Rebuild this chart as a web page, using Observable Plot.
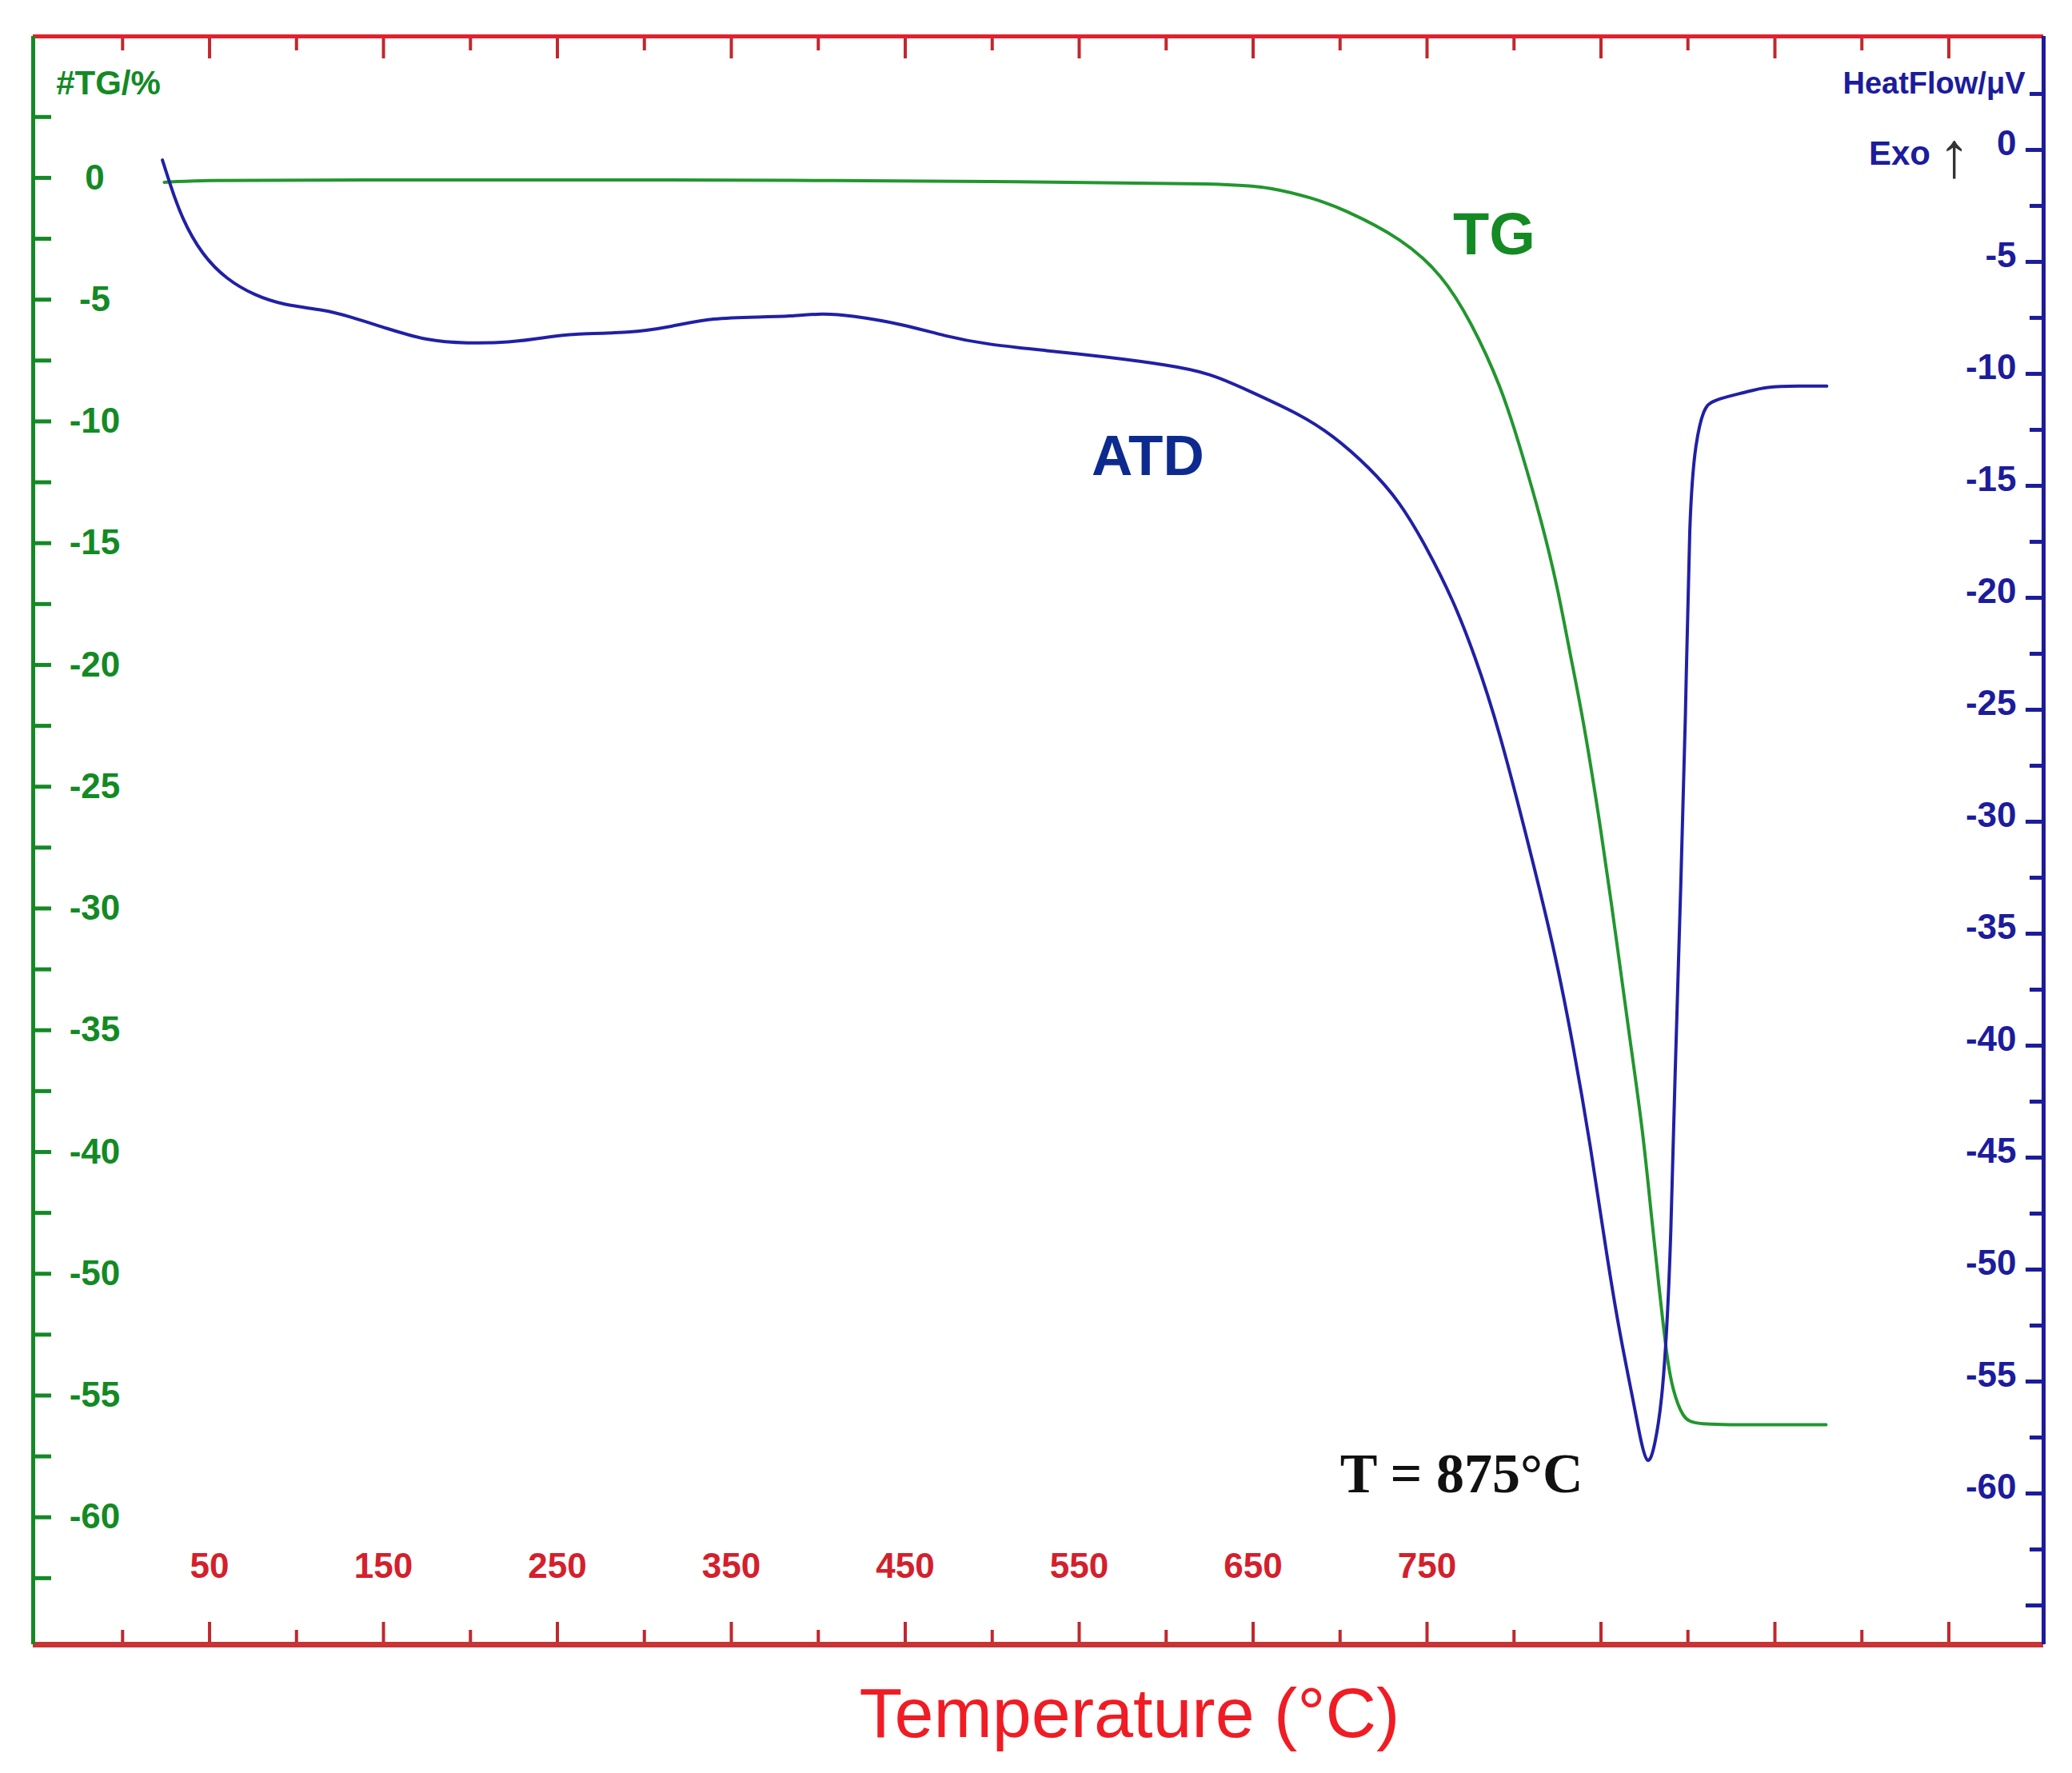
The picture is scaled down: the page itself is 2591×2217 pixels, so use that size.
<!DOCTYPE html>
<html><head><meta charset="utf-8">
<script src="https://cdn.jsdelivr.net/npm/d3@7"></script>
<script src="https://cdn.jsdelivr.net/npm/@observablehq/plot@0.6"></script>
<style>html,body{margin:0;padding:0;background:#fff} svg{display:block}</style>
</head><body><div id="chart"></div>
<script>
// ---- data ----
// TG (mass loss, %) vs temperature (°C)
const tgTemp = [24, 42, 114, 344, 397, 527, 637, 660, 684, 701, 736, 759, 774.8, 792.7, 804.7, 815.7, 825, 832.2, 840, 850.7, 858.5, 866.8, 874.1, 879.2, 883.8, 887.9, 891.1, 897.1, 903.6, 940, 979.4];
const tgMass = [-0.18, -0.10, -0.08, -0.08, -0.11, -0.16, -0.23, -0.39, -0.82, -1.25, -2.50, -4.01, -5.84, -8.56, -11.33, -14.06, -16.78, -19.54, -22.27, -27.09, -31.07, -35.47, -39.11, -42.79, -45.81, -48.44, -49.75, -50.94, -51.2, -51.2, -51.2];
// ATD (heat flow, µV) vs temperature (°C)
const atdTemp = [22.9, 26.8, 33.9, 45.6, 59.9, 76, 92.5, 116, 130.2, 151.4, 174.8, 198.3, 221.7, 245.2, 256.7, 292.1, 315.5, 339, 367, 383.6, 402.4, 418.5, 449.3, 472.8, 496.2, 531.2, 566.6, 601.5, 625, 648.4, 676.5, 695.3, 716.9, 734.4, 749.5, 765.1, 777.1, 790.9, 811.6, 824, 834.1, 844.3, 852, 860.3, 868.6, 872.7, 876.9, 881, 885.1, 887.9, 890.2, 892.5, 895.7, 898.7, 900.8, 904.5, 909.1, 913.6, 933.4, 944.5, 964.2, 979.8];
const atdHeat = [-0.45, -1.41, -3.04, -4.68, -5.79, -6.5, -6.93, -7.14, -7.43, -7.96, -8.52, -8.64, -8.61, -8.36, -8.21, -8.18, -7.89, -7.5, -7.46, -7.43, -7.29, -7.39, -7.79, -8.32, -8.68, -8.96, -9.25, -9.61, -9.96, -10.79, -11.79, -12.71, -14.18, -15.71, -17.71, -20.11, -22.5, -25.7, -32.0, -36.0, -40.0, -44.6, -48.7, -52.7, -55.86, -57.6, -58.9, -57.9, -55.86, -52.7, -48.7, -41.4, -33.4, -25.5, -15.93, -12.96, -11.54, -11.18, -10.82, -10.57, -10.54, -10.55];

// axes
const xDomain = [-51.4, 1104.5];
const tgDomain = [-60.23, 5.81];
const hfDomain = [-66.75, 5.07];
const xTicks = [0,50,100,150,200,250,300,350,400,450,500,550,600,650,700,750,800,850,900,950,1000,1050];
const xLabelValues = [50,150,250,350,450,550,650,750];
const tgTickValues = [0,-5,-10,-15,-20,-25,-30,-35,-40,-45,-50,-55];
const tgTickLabels = ["0","-5","-10","-15","-20","-25","-30","-35","-40","-50","-55","-60"];
const hfTickValues = [0,-5,-10,-15,-20,-25,-30,-35,-40,-45,-50,-55,-60];
const hfTickLabels = ["0","-5","-10","-15","-20","-25","-30","-35","-40","-45","-50","-55","-60"];
const annotations = [
  {T: 788.6, v: -2.36, text: "TG"},
  {T: 589.5, v: -11.46, text: "ATD"},
  {T: 769.8, v: -53.25, text: "T = 875°C"}
];

// ---- build ----
const tgData = tgTemp.map((T, i) => ({T, m: tgMass[i]}));
const atdData = atdTemp.map((T, i) => ({T, h: atdHeat[i]}));
const hf = d3.scaleLinear().domain(hfDomain).range(tgDomain);

const W = 2591, H = 2217, mL = 41, mR = 36, mT = 45, mB = 161;
const fw = W - mL - mR, fh = H - mT - mB;

const green = "#138a24", greenLine = "#22962e", blue = "#1c1c9c", blueLine = "#2020a6";
const red = "#e0222c", darkRed = "#c0282e";
const font = "Liberation Sans, Arial, sans-serif";

const tgMinor = d3.range(2.5, -58, -2.5);
const hfMinor = d3.range(2.5, -66, -2.5);
const xLong = xTicks.filter(t => t % 100 === 50);
const xShort = xTicks.filter(t => t % 100 !== 50);
const hfMajor = hfMinor.filter(u => Math.abs(u % 5) < 1e-9);
const hfHalf = hfMinor.filter(u => Math.abs(u % 5) > 1e-9);

const plot = Plot.plot({
  width: W, height: H,
  marginLeft: mL, marginRight: mR, marginTop: mT, marginBottom: mB,
  x: {domain: xDomain, axis: null},
  y: {domain: tgDomain, axis: null},
  style: {fontFamily: font, background: "#fff"},
  marks: [
    // curves
    Plot.line(tgData, {x: "T", y: "m", stroke: greenLine, strokeWidth: 4, curve: "basis"}),
    Plot.line(atdData, {x: "T", y: d => hf(d.h), stroke: blueLine, strokeWidth: 4, curve: "basis"}),

    // x ticks top and bottom (inward)
    Plot.ruleX(xLong, {x: d => d, insetBottom: fh - 28, stroke: darkRed, strokeWidth: 4}),
    Plot.ruleX(xShort, {x: d => d, insetBottom: fh - 18, stroke: darkRed, strokeWidth: 4}),
    Plot.ruleX(xLong, {x: d => d, insetTop: fh - 28, stroke: darkRed, strokeWidth: 4}),
    Plot.ruleX(xShort, {x: d => d, insetTop: fh - 18, stroke: darkRed, strokeWidth: 4}),
    // left TG ticks
    Plot.ruleY(tgMinor, {y: d => d, insetRight: fw - 23, stroke: green, strokeWidth: 5}),
    // right heat flow ticks
    Plot.ruleY(hfMajor, {y: d => hf(d), insetLeft: fw - 22, stroke: blue, strokeWidth: 5}),
    Plot.ruleY(hfHalf, {y: d => hf(d), insetLeft: fw - 17, stroke: blue, strokeWidth: 5}),

    // frame lines
    Plot.ruleY([tgDomain[1]], {stroke: red, strokeWidth: 5}),
    Plot.ruleY([tgDomain[0]], {stroke: "#c83434", strokeWidth: 7}),
    Plot.ruleX([xDomain[0]], {stroke: green, strokeWidth: 5}),
    Plot.ruleX([xDomain[1]], {stroke: blue, strokeWidth: 5}),

    // tick labels
    Plot.text(tgTickValues, {y: d => d, text: (d, i) => tgTickLabels[i], frameAnchor: "left", dx: 77, textAnchor: "middle", lineAnchor: "middle", fill: green, fontSize: 44, fontWeight: "bold"}),
    Plot.text(hfTickValues, {y: d => hf(d), text: (d, i) => hfTickLabels[i], frameAnchor: "right", dx: -34, dy: -8, textAnchor: "end", lineAnchor: "middle", fill: blue, fontSize: 44, fontWeight: "bold"}),
    Plot.text(xLabelValues, {x: d => d, text: d => String(d), frameAnchor: "bottom", dy: -84, fill: "#d4202c", fontSize: 44, fontWeight: "bold"}),

    // axis titles
    Plot.text(["#TG/%"], {text: d => d, frameAnchor: "top-left", dx: 94, dy: 59, textAnchor: "middle", lineAnchor: "middle", fill: green, fontSize: 42, fontWeight: "bold"}),
    Plot.text(["HeatFlow/μV"], {text: d => d, frameAnchor: "top-right", dx: -23, dy: 59, textAnchor: "end", lineAnchor: "middle", fill: blue, fontSize: 38, fontWeight: "bold"}),
    Plot.text(["Exo"], {text: d => d, frameAnchor: "top-right", dx: -180, dy: 147, textAnchor: "middle", lineAnchor: "middle", fill: blue, fontSize: 42, fontWeight: "bold"}),
    Plot.text(["↑"], {text: d => d, frameAnchor: "top-right", dx: -112, dy: 150, textAnchor: "middle", lineAnchor: "middle", fill: "#333", fontSize: 80}),
    Plot.text(["Temperature (°C)"], {text: d => d, frameAnchor: "bottom", dx: 114, dy: 115, fill: "#f01c24", fontSize: 88}),

    // curve annotations
    Plot.text(annotations.slice(0, 1), {x: "T", y: "v", text: "text", fill: "#138a24", fontSize: 74, fontWeight: "bold"}),
    Plot.text(annotations.slice(1, 2), {x: "T", y: "v", text: "text", fill: "#0d2a8f", fontSize: 71, fontWeight: "bold"}),
    Plot.text(annotations.slice(2, 3), {x: "T", y: "v", text: "text", fill: "#111", fontSize: 70, fontWeight: "bold", fontFamily: "Liberation Serif, Times New Roman, serif"})
  ]
});
document.getElementById("chart").append(plot);
</script>
</body></html>
